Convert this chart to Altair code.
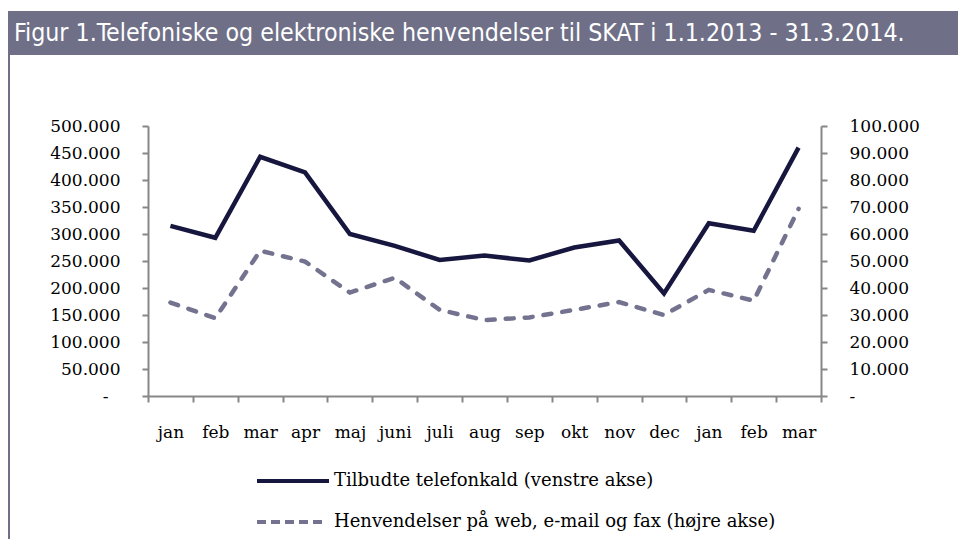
import altair as alt
import pandas as pd

months = ["jan", "feb", "mar", "apr", "maj", "juni", "juli", "aug", "sep",
          "okt", "nov", "dec", "jan", "feb", "mar"]
years = ["2013"] * 12 + ["2014"] * 3
calls = [315000, 293000, 443000, 414000, 300000, 278000, 252000, 260000,
         251000, 275000, 288000, 190000, 320000, 306000, 460000]
web = [34600, 28800, 53800, 49800, 38300, 43800, 31900, 28100,
       29100, 31900, 34800, 30000, 39300, 35300, 69300]
series_names = ["Tilbudte telefonkald (venstre akse)",
                "Henvendelser på web, e-mail og fax (højre akse)"]
title_text = "Figur 1.Telefoniske og elektroniske henvendelser til SKAT i 1.1.2013 - 31.3.2014."
left_ticks = list(range(0, 500001, 50000))
right_ticks = list(range(0, 100001, 10000))

keys = [f"{m} {y}" for m, y in zip(months, years)]
df = pd.DataFrame({"key": keys, "calls": calls, "web": web})

AX = "#878787"
SOLID = "#16163e"
DASH = "#737390"
SERIF = "DejaVu Serif"
W, H = 673, 270

x_enc = alt.X(
    "key:N", sort=keys, bandPosition=0.5,
    scale=alt.Scale(type="band", paddingInner=0, paddingOuter=0),
    axis=alt.Axis(title=None, labelAngle=0, tickBand="extent",
                  labelExpr="isString(datum.value) ? split(datum.value, ' ')[0] : ''",
                  labelFont=SERIF, labelFontSize=17, labelColor="#000000",
                  labelPadding=22, tickSize=6, tickColor=AX, tickWidth=2,
                  domainColor=AX, domainWidth=2, grid=False),
)

fmt = "replace(format(datum.value, ','), ',', '.')"

line_calls = alt.Chart(df).mark_line(
    color=SOLID, strokeWidth=4.5
).encode(
    x=x_enc,
    y=alt.Y("calls:Q", scale=alt.Scale(domain=[0, 500000], nice=False),
            axis=alt.Axis(orient="left", title=None, values=left_ticks, grid=False,
                          labelExpr=f"datum.value == 0 ? '-' : {fmt}",
                          labelFont=SERIF, labelFontSize=17, labelColor="#000000",
                          labelPadding={"condition": {"test": "datum.value == 0", "value": 34},
                                        "value": 22},
                          tickSize=6, tickColor=AX, tickWidth=2,
                          domainColor=AX, domainWidth=2)),
)

line_web = alt.Chart(df).mark_line(
    color=DASH, strokeWidth=4.5, strokeDash=[8, 11], strokeCap="round"
).encode(
    x=x_enc,
    y=alt.Y("web:Q", scale=alt.Scale(domain=[0, 100000], nice=False),
            axis=alt.Axis(orient="right", title=None, values=right_ticks, grid=False,
                          labelExpr=f"datum.value == 0 ? '-' : {fmt}",
                          labelFont=SERIF, labelFontSize=17, labelColor="#000000",
                          labelPadding=22, tickSize=6, tickColor=AX, tickWidth=2,
                          domainColor=AX, domainWidth=2)),
)

lines = alt.layer(line_calls, line_web).resolve_scale(y="independent")

# decorations: title bar, left border, legend
title_df = pd.DataFrame({"t": [title_text]})
bar = alt.Chart(title_df).mark_rect(color="#6f7088").encode(
    x=alt.value(-140), x2=alt.value(W + 137), y=alt.value(-115), y2=alt.value(-71))
title = alt.Chart(title_df).mark_text(
    color="white", font="Liberation Sans Narrow, DejaVu Sans Condensed, Open Sans",
    fontSize=24.7, align="left", baseline="middle"
).encode(x=alt.value(-134), y=alt.value(-92), text="t:N")
border = alt.Chart(title_df).mark_rule(color="#6f7088", strokeWidth=2).encode(
    x=alt.value(-139), y=alt.value(-71), y2=alt.value(H + 143))

leg1_df = pd.DataFrame({"t": [series_names[0]]})
leg2_df = pd.DataFrame({"t": [series_names[1]]})
leg1_line = alt.Chart(leg1_df).mark_rule(color=SOLID, strokeWidth=4).encode(
    x=alt.value(109), x2=alt.value(181), y=alt.value(355))
leg2_line = alt.Chart(leg2_df).mark_rule(color=DASH, strokeWidth=4, strokeDash=[9, 5]).encode(
    x=alt.value(109), x2=alt.value(179), y=alt.value(396))
leg1_text = alt.Chart(leg1_df).mark_text(
    font=SERIF, fontSize=18, align="left", baseline="middle", color="#000000"
).encode(x=alt.value(186), y=alt.value(355), text="t:N")
leg2_text = alt.Chart(leg2_df).mark_text(
    font=SERIF, fontSize=18, align="left", baseline="middle", color="#000000"
).encode(x=alt.value(186), y=alt.value(396), text="t:N")

decor = alt.layer(bar, title, border, leg1_line, leg2_line, leg1_text, leg2_text)

chart = alt.layer(lines, decor).resolve_scale(y="independent").properties(
    width=W, height=H,
    autosize=alt.AutoSizeParams(type="none"),
    padding={"left": 140, "top": 118, "right": 137, "bottom": 143},
).configure_view(stroke=None)

chart.save("out.html", embed_options={"renderer": "svg", "actions": False})
